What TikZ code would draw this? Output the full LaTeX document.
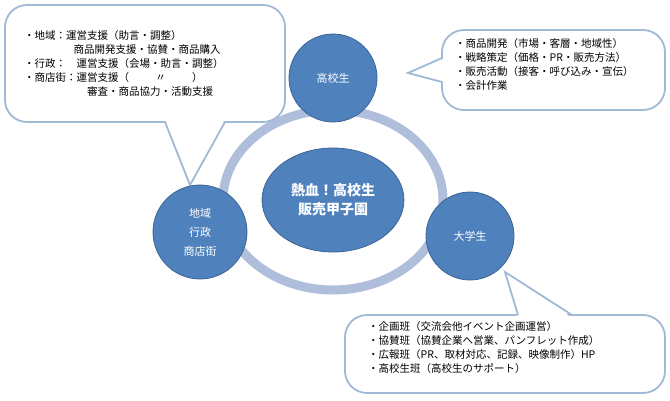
\documentclass[tikz,border=0pt]{standalone}
\usepackage{fontspec}
\setmainfont{Noto Sans CJK JP}
\usetikzlibrary{shapes.geometric}
\begin{document}
\begin{tikzpicture}[x=1pt,y=-1pt,
  blob/.style={fill={rgb,255:red,79;green,129;blue,189},draw={rgb,255:red,60;green,100;blue,150},line width=0.8pt,text=white,font=\fontsize{11}{15}\selectfont,align=center},
  callout/.style={fill=white,draw={rgb,255:red,160;green,185;blue,215},line width=1.8pt,rounded corners=22pt},
  tailline/.style={draw={rgb,255:red,160;green,185;blue,215},line width=1.8pt,line join=miter},
  txt/.style={font=\fontsize{10.5}{14}\selectfont,align=left,anchor=north west,inner sep=0pt}]
\useasboundingbox (0,0) rectangle (670,400);
% ring
\draw[line width=9pt,draw={rgb,255:red,175;green,190;blue,218}] (333,200) ellipse [x radius=110, y radius=90];
% callouts
\draw[callout] (5,5) rectangle (285,122);
\fill[white] (225,119) -- (190,185) -- (165,119) -- cycle;
\draw[tailline] (225,122) -- (190,185) -- (165,122);
\draw[callout] (442,30) rectangle (665,110);
\fill[white] (445,82) -- (408,73) -- (445,58) -- cycle;
\draw[tailline] (442,82) -- (408,73) -- (442,58);
\draw[callout] (345,315) rectangle (665,393);
\fill[white] (518,318) -- (505,272) -- (572,318) -- cycle;
\draw[tailline] (518,315) -- (505,272) -- (572,315);
% nodes
\node[blob,circle,minimum size=88pt] (hs) at (333,78) {高校生};
\node[blob,circle,minimum size=88pt] (ds) at (470,236) {大学生};
\node[blob,circle,minimum size=94pt] (ch) at (200,232) {地域\\[4pt]行政\\[4pt]商店街};
\node[blob,ellipse,minimum width=142pt,minimum height=104pt,font=\fontsize{14}{19}\selectfont\bfseries] (c) at (333,200) {熱血！高校生\\販売甲子園};
% texts
\node[txt] (t1) at (24,30) {・地域：運営支援（助言・調整）\\\hspace{4.7em}商品開発支援・協賛・商品購入\\・行政：\hspace{1em}運営支援（会場・助言・調整）\\・商店街：運営支援（\hspace{2.5em}〃\hspace{2.5em}）\\\hspace{6em}審査・商品協力・活動支援};
\node[txt] (t2) at (455,38) {・商品開発（市場・客層・地域性）\\・戦略策定（価格・PR・販売方法）\\・販売活動（接客・呼び込み・宣伝）\\・会計作業};
\node[txt] (t3) at (368,321) {・企画班（交流会他イベント企画運営）\\・協賛班（協賛企業へ営業、パンフレット作成）\\・広報班（PR、取材対応、記録、映像制作）HP\\・高校生班（高校生のサポート）};
\end{tikzpicture}
\end{document}
